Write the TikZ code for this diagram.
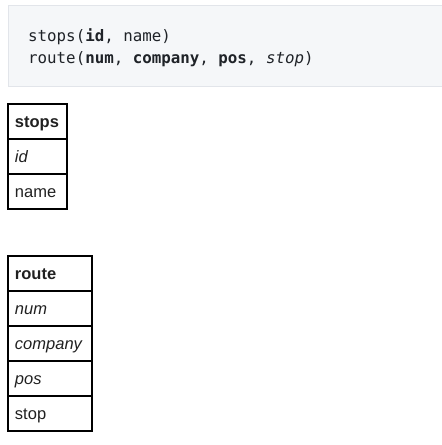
\documentclass[tikz,border=0pt]{standalone}
\usepackage{fontspec}
\setmainfont{Liberation Sans}
\setmonofont{DejaVu Sans Mono}
\definecolor{codebg}{HTML}{F5F7F9}
\definecolor{codeline}{HTML}{E2E5EA}
\definecolor{codetext}{HTML}{1F2328}
\definecolor{celltext}{HTML}{202020}
\begin{document}
\begin{tikzpicture}[x=1pt,y=-1pt,
  codeborder/.style={draw=codeline, line width=0.8pt},
  codetxt/.style={inner sep=0, anchor=base west, text=codetext, font=\ttfamily\fontsize{15.8}{20}\selectfont},
  cell/.style={draw=black, line width=1.2pt, anchor=north west, minimum height=35,
    inner xsep=7, inner ysep=0, outer sep=0, align=left, text height=13, text depth=2,
    text=celltext, font=\fontsize{16.5}{20}\selectfont},
  stopscell/.style={cell, minimum width=59, text width=45},
  routecell/.style={cell, minimum width=84, text width=70}
]
\useasboundingbox (0,0) rectangle (442,445);
% code block
\coordinate (cnw) at (8,5);
\coordinate (cne) at (442,5);
\coordinate (csw) at (8,86);
\coordinate (cse) at (442,86);
\fill[codebg] (cnw) rectangle (cse);
\draw[codeborder] (cne) -- (cnw) -- (csw) -- (cse);
\node[codetxt] (l1) at (28,41.5) {stops(\textbf{id}, name)};
\node[codetxt] (l2) at (28,63.5) {route(\textbf{num}, \textbf{company}, \textbf{pos}, \textit{stop})};
% stops table
\node[stopscell] (s0) at (8,104) {\textbf{stops}};
\node[stopscell] (s1) at (8,139) {\textit{id}};
\node[stopscell] (s2) at (8,174) {name};
% route table
\node[routecell] (r0) at (8,256) {\textbf{route}};
\node[routecell] (r1) at (8,291) {\textit{num}};
\node[routecell] (r2) at (8,326) {\textit{company}};
\node[routecell] (r3) at (8,361) {\textit{pos}};
\node[routecell] (r4) at (8,396) {stop};
\end{tikzpicture}
\end{document}
